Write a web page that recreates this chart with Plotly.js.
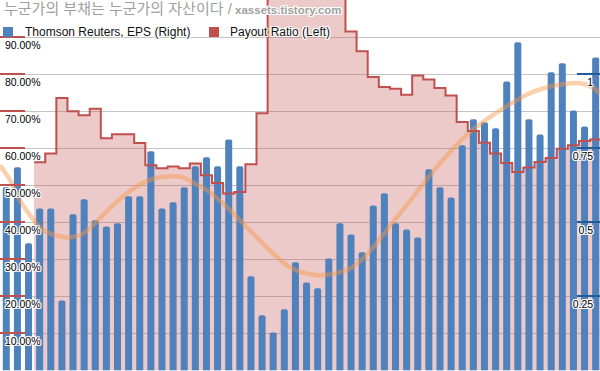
<!DOCTYPE html>
<html>
<head>
<meta charset="utf-8">
<script src="https://cdn.plot.ly/plotly-3.0.1.min.js"></script>
<style>html,body{margin:0;padding:0;background:#fff;}#chart{width:600px;height:371px;}</style>
</head>
<body>
<div id="chart"></div>
<script>
// quarter index (x categories)
const quarters = [0,1,2,3,4,5,6,7,8,9,10,11,12,13,14,15,16,17,18,19,20,21,22,23,24,25,26,27,28,29,30,31,32,33,34,35,36,37,38,39,40,41,42,43,44,45,46,47,48,49,50,51,52,53];
// Thomson Reuters EPS (right axis)
const eps = [0.618,0.686,0.429,0.547,0.547,0.236,0.527,0.578,0.507,0.486,0.497,0.588,0.588,0.740,0.547,0.568,0.618,0.689,0.720,0.689,0.780,0.689,0.318,0.186,0.128,0.206,0.365,0.297,0.277,0.378,0.497,0.459,0.399,0.557,0.598,0.497,0.476,0.449,0.679,0.618,0.584,0.760,0.848,0.838,0.818,0.976,1.108,0.848,0.797,1.007,1.037,0.878,0.824,1.057];
// Payout ratio (left axis); values above 100% run off the top of the chart
const payout = [null,null,null,0.562,0.586,0.736,0.700,0.689,0.707,0.627,0.638,0.638,0.614,0.554,0.546,0.551,0.546,0.559,0.527,0.506,0.478,0.482,0.557,0.695,1.25,1.4,1.6,1.5,1.35,1.2,1.1,0.916,0.862,0.793,0.766,0.761,0.745,0.797,0.786,0.763,0.743,0.671,0.647,0.615,0.586,0.560,0.536,0.548,0.563,0.574,0.599,0.608,0.620,0.624];
// smooth trend curve (left axis units)
const trendX = [-0.567,0.333,1.232,2.131,3.031,3.930,5.459,6.628,7.527,8.426,9.775,10.94,12.20,13.37,14.54,15.80,16.97,18.05,19.49,21.02,22.55,23.98,25.51,26.59,28.03,29.56,31.09,32.53,34.06,35.14,36.57,38.10,39.63,41.07,42.60,44.13,45.57,47.10,48.63,50.07,51.60,52.49,53.39];
const trendY = [0.554,0.514,0.459,0.419,0.386,0.370,0.359,0.365,0.384,0.411,0.451,0.481,0.505,0.519,0.524,0.522,0.505,0.486,0.451,0.405,0.359,0.316,0.278,0.265,0.257,0.262,0.278,0.316,0.373,0.414,0.468,0.527,0.581,0.627,0.665,0.697,0.724,0.749,0.765,0.773,0.776,0.768,0.749];
// tick labels
const leftTickVals = [0,0.1,0.2,0.3,0.4,0.5,0.6,0.7,0.8,0.9,1.0];
const leftTickText = ['','10.00%','20.00%','30.00%','40.00%','50.00%','60.00%','70.00%','80.00%','90.00%',''];
const rightTickVals = [0,0.25,0.5,0.75,1];
const rightTickText = ['','0.25','0.5','0.75','1'];
const titleKo = '누군가의 부채는 누군가의 자산이다';
const titleSite = 'xassets.tistory.com';
const seriesNames = ['Thomson Reuters, EPS (Right)', 'Payout Ratio (Left)'];

// step arrays: each quarter value spans its full bin
const stepX = [], stepY = [];
quarters.forEach((q, i) => { if (payout[i] !== null) { stepX.push(q - 0.5); stepY.push(payout[i]); } });
stepX.push(quarters[quarters.length - 1] + 0.5); stepY.push(payout[payout.length - 1]);

const FONT = 'Liberation Sans, Arial, Noto Sans CJK KR, sans-serif';
const HALO = '-1px -1px 0 #fff, 1px -1px 0 #fff, -1px 1px 0 #fff, 1px 1px 0 #fff, 0 1px 0 #fff, 0 -1px 0 #fff, 1px 0 0 #fff, -1px 0 0 #fff';
const RED = '#C0504D', BLUE = '#4F81BD';

const traces = [
  { x: stepX, y: stepY, type: 'scatter', mode: 'none', line: {shape: 'hv'}, fill: 'tozeroy',
    fillcolor: 'rgba(192,80,77,0.30)', yaxis: 'y', hoverinfo: 'skip', showlegend: false },
  { x: quarters, y: eps, type: 'bar', yaxis: 'y2', marker: {color: BLUE, cornerradius: 2},
    name: seriesNames[0], showlegend: false },
  { x: trendX, y: trendY, type: 'scatter', mode: 'lines', yaxis: 'y3',
    line: {color: 'rgba(247,150,70,0.45)', width: 4.5, shape: 'spline'}, showlegend: false },
  { x: stepX, y: stepY, type: 'scatter', mode: 'lines', yaxis: 'y3',
    line: {color: RED, width: 2, shape: 'hv'}, name: seriesNames[1], showlegend: false }
];

const yRange = [-0.0019, 1.0008];
const layout = {
  width: 600, height: 371,
  margin: {l: 0, r: 0, t: 0, b: 0, pad: 0},
  paper_bgcolor: '#fff', plot_bgcolor: '#fff',
  bargap: 0.37,
  showlegend: false,
  xaxis: {range: [-0.567, 53.39], visible: false},
  yaxis: {range: yRange, tickmode: 'array', tickvals: leftTickVals, ticktext: leftTickText,
    showgrid: true, gridcolor: '#c4c4c4', gridwidth: 1, zeroline: false, showline: false,
    ticks: 'inside', ticklen: 25, tickwidth: 2, tickcolor: RED,
    ticklabelposition: 'inside', ticklabelshift: 8, ticklabelstandoff: -21,
    tickfont: {family: FONT, size: 10.5, color: '#000', shadow: HALO}},
  yaxis2: {range: [yRange[0] * 1.25, yRange[1] * 1.25], overlaying: 'y', side: 'right',
    tickmode: 'array', tickvals: rightTickVals, ticktext: rightTickText,
    showgrid: false, zeroline: false, showline: false,
    ticks: 'inside', ticklen: 23, tickwidth: 2, tickcolor: '#1F5C99',
    ticklabelposition: 'inside', ticklabelshift: 8, ticklabelstandoff: -17,
    tickfont: {family: FONT, size: 10.5, color: '#000', shadow: HALO}},
  yaxis3: {range: yRange, overlaying: 'y', visible: false},
  shapes: [
    {type: 'rect', xref: 'paper', yref: 'paper', x0: 3/600, x1: 13/600, y0: (371-37)/371, y1: (371-27)/371,
     fillcolor: BLUE, line: {width: 0}},
    {type: 'rect', xref: 'paper', yref: 'paper', x0: 209/600, x1: 219/600, y0: (371-37)/371, y1: (371-27)/371,
     fillcolor: RED, line: {width: 0}}
  ],
  annotations: [
    {text: '<span style="font-size:15px">' + titleKo + ' /</span> <b>' + titleSite + '</b>',
     xref: 'paper', yref: 'paper', x: 2/600, y: (371-9)/371, xanchor: 'left', yanchor: 'middle',
     showarrow: false, font: {family: FONT, size: 11.5, color: '#a0a0a0', shadow: HALO}},
    {text: seriesNames[0], xref: 'paper', yref: 'paper', x: 23/600, y: (371-32)/371, xanchor: 'left', yanchor: 'middle',
     showarrow: false, font: {family: FONT, size: 12, color: '#111', shadow: HALO}},
    {text: seriesNames[1], xref: 'paper', yref: 'paper', x: 228/600, y: (371-32)/371, xanchor: 'left', yanchor: 'middle',
     showarrow: false, font: {family: FONT, size: 12, color: '#111', shadow: HALO}}
  ]
};

Plotly.newPlot('chart', traces, layout, {displayModeBar: false, staticPlot: true});
</script>
</body>
</html>
